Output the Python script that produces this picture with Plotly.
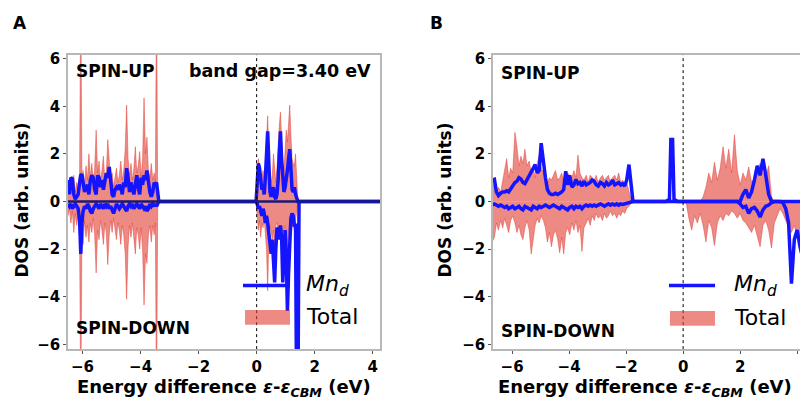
import plotly.graph_objects as go

# ---------------- Panel A data ----------------
E_A_val = [-6.5, -6.45, -6.4, -6.35, -6.3, -6.25, -6.2, -6.15, -6.1, -6.06, -6.02, -5.98, -5.93, -5.88,
           -5.83, -5.78, -5.73, -5.68, -5.63, -5.58, -5.53, -5.48, -5.43, -5.38, -5.33, -5.28, -5.23,
           -5.18, -5.13, -5.08, -5.03, -4.98, -4.93, -4.88, -4.83, -4.78, -4.73, -4.68, -4.63, -4.58,
           -4.53, -4.48, -4.43, -4.38, -4.33, -4.28, -4.23, -4.18, -4.13, -4.08, -4.03, -3.98, -3.93,
           -3.88, -3.83, -3.78, -3.73, -3.68, -3.63, -3.58, -3.53, -3.49, -3.45, -3.41, -3.37]
A_total_up_val = [0.9, 0.5, 1.0, 0.6, 1.1, 0.4, 0.8, 0.5, 1.2, 9.0, 1.0, 1.3, 0.7, 1.5,
                  0.9, 2.0, 1.0, 1.6, 0.8, 1.4, 3.0, 1.2, 1.7, 0.9, 1.3, 1.9, 0.8,
                  1.2, 2.6, 1.5, 0.9, 1.2, 0.6, 1.0, 1.4, 0.8, 1.1, 1.7, 0.9, 1.3,
                  2.2, 4.05, 1.8, 1.1, 1.6, 0.9, 1.4, 2.3, 1.2, 1.5, 2.1, 1.0, 1.8,
                  4.35, 2.0, 2.7, 1.3, 1.0, 1.6, 0.9, 1.2, 0.8, 9.0, 0.3, 0.0]
A_total_dn_val = [-0.6, -0.3, -0.9, -0.4, -1.3, -0.5, -1.0, -0.6, -1.5, -9.0, -1.2, -1.8, -0.8, -1.5,
                  -1.0, -1.7, -0.9, -1.3, -0.7, -1.4, -3.0, -1.2, -1.6, -0.8, -1.2, -1.8, -0.9,
                  -1.3, -2.65, -1.4, -0.8, -1.3, -0.7, -1.1, -1.6, -0.9, -1.2, -1.8, -1.0, -1.4,
                  -2.2, -4.1, -1.9, -1.0, -1.5, -0.9, -1.6, -2.2, -1.1, -1.4, -2.0, -1.1, -2.0,
                  -4.35, -2.2, -2.6, -1.4, -1.0, -1.7, -1.0, -1.4, -0.9, -9.0, -0.3, 0.0]
A_mn_up_val = [0.9, 0.3, 1.0, 0.95, 0.3, 0.1, 0.2, 0.3, 0.8, 1.1, 1.15, 0.9, 0.4, 0.6,
               0.7, 0.3, 0.9, 1.1, 1.0, 0.5, 0.3, 1.1, 1.0, 0.6, 0.9, 0.5, 0.8,
               1.2, 1.0, 1.45, 0.9, 0.3, 0.2, 0.5, 0.6, 0.5, 0.7, 0.6, 0.3, 0.8,
               0.6, 1.4, 1.0, 0.4, 0.8, 0.6, 0.3, 0.7, 1.1, 0.6, 0.3, 1.0, 0.7,
               1.1, 0.9, 1.3, 0.7, 0.4, 0.2, 0.4, 0.8, 0.7, 0.8, 0.3, 0.0]
A_mn_dn_val = [-0.1, -0.2, -0.1, -0.3, -0.2, -0.1, -0.2, -0.3, -0.8, -2.2, -0.9, -0.4, -0.2, -0.3,
               -0.1, -0.2, -0.4, -0.5, -0.3, -0.2, -0.1, -0.2, -0.3, -0.1, -0.2, -0.3, -0.1,
               -0.2, -0.1, -0.3, -0.2, -0.4, -0.5, -0.3, -0.1, -0.2, -0.3, -0.2, -0.1, -0.2,
               -0.3, -0.4, -0.2, -0.1, -0.2, -0.1, -0.3, -0.2, -0.1, -0.2, -0.3, -0.1, -0.2,
               -0.3, -0.2, -0.4, -0.3, -0.1, -0.2, -0.1, -0.2, -0.1, -0.2, -0.05, 0.0]

E_A_cond = [-0.02, 0.02, 0.06, 0.1, 0.14, 0.18, 0.22, 0.26, 0.3, 0.34, 0.38, 0.42, 0.46, 0.5, 0.54,
            0.58, 0.62, 0.66, 0.7, 0.74, 0.78, 0.82, 0.86, 0.9, 0.94, 0.98, 1.02, 1.06, 1.1, 1.14,
            1.18, 1.22, 1.26, 1.3, 1.34, 1.38, 1.42, 1.46, 4.3]
A_total_up_cond = [0.0, 1.0, 1.8, 1.2, 0.7, 0.9, 1.3, 0.6, 1.5, 2.6, 3.6, 2.0, 1.0, 0.8, 1.1,
                   2.0, 1.2, 0.8, 1.4, 2.4, 3.2, 3.75, 2.8, 1.6, 1.3, 2.3, 3.0, 2.5, 3.3, 4.05,
                   2.8, 1.8, 1.6, 1.5, 2.0, 1.0, 0.0, 0.0, 0.0]
A_total_dn_cond = [0.0, -0.6, -1.2, -0.8, -1.5, -0.9, -1.1, -0.7, -1.3, -2.0, -3.75, -1.5, -1.0, -1.3, -1.6,
                   -1.2, -2.0, -1.0, -0.9, -1.4, -1.0, -1.2, -1.8, -1.1, -1.3, -1.0, -1.4, -3.4, -1.2, -1.0,
                   -1.3, -1.1, -0.9, -1.2, -0.8, -0.4, 0.0, 0.0, 0.0]
A_mn_up_cond = [0.0, 0.8, 1.6, 1.4, 0.7, 0.5, 0.6, 0.3, 1.0, 2.0, 2.95, 1.6, 0.4, 0.2, 0.5,
                0.6, 0.2, 0.1, 0.3, 0.9, 2.0, 2.95, 1.8, 0.8, 0.4, 0.6, 0.9, 1.3, 1.8, 2.2,
                1.4, 0.5, 0.4, 0.6, 0.3, 0.1, 0.0, 0.0, 0.0]
A_mn_dn_cond = [0.0, -0.1, -0.3, -0.2, -0.4, -0.6, -0.3, -0.5, -0.9, -0.6, -0.9, -1.3, -1.8, -2.2, -1.6,
                -2.5, -3.4, -2.0, -1.1, -1.2, -1.6, -1.0, -1.5, -3.4, -2.0, -1.2, -2.2, -4.6, -3.0, -1.2,
                -0.7, -0.5, -0.6, -1.0, -1.0, -9.0, -9.0, 0.0, 0.0]

# ---------------- Panel B data ----------------
E_B_val = [-6.7, -6.62, -6.55, -6.48, -6.4, -6.33, -6.26, -6.19, -6.12, -6.05, -5.98, -5.9, -5.83, -5.76,
           -5.69, -5.62, -5.55, -5.48, -5.4, -5.33, -5.26, -5.19, -5.12, -5.05, -4.98, -4.9, -4.83,
           -4.76, -4.69, -4.62, -4.55, -4.48, -4.4, -4.33, -4.26, -4.19, -4.12, -4.05, -3.98, -3.9,
           -3.83, -3.76, -3.69, -3.62, -3.55, -3.48, -3.4, -3.33, -3.26, -3.19, -3.12, -3.05, -2.98,
           -2.9, -2.83, -2.76, -2.69, -2.62, -2.55, -2.48, -2.4, -2.33, -2.26, -2.19, -2.12, -2.05,
           -1.98, -1.9, -1.83, -1.76]
B_total_up_val = [0.5, 0.8, 0.3, 0.6, 0.4, 0.9, 1.3, 1.8, 1.0, 1.4, 1.2, 2.9, 2.3, 1.5,
                  1.9, 1.6, 2.2, 1.5, 1.7, 1.2, 1.4, 1.0, 1.6, 1.95, 1.4, 1.2, 0.9,
                  0.8, 1.0, 0.9, 1.1, 1.3, 0.9, 1.0, 1.2, 0.8, 1.0, 1.2, 1.1, 1.0,
                  1.3, 1.0, 1.95, 1.2, 1.0, 0.9, 1.1, 0.8, 1.1, 1.0, 0.9, 1.1, 0.8,
                  1.0, 1.1, 0.9, 1.0, 1.1, 0.8, 1.0, 1.1, 0.9, 1.2, 0.8, 0.9, 0.7,
                  0.8, 0.4, 0.1, 0.0]
B_total_dn_val = [-1.7, -1.5, -0.9, -1.2, -0.8, -1.1, -0.7, -1.0, -1.3, -0.8, -0.6, -0.9, -1.3, -1.0,
                  -1.4, -1.6, -1.1, -0.8, -1.2, -2.2, -1.5, -1.0, -0.7, -0.9, -0.6, -0.8, -1.1,
                  -1.7, -1.3, -1.9, -1.4, -1.2, -1.6, -2.15, -1.5, -2.2, -1.3, -1.1, -1.4, -0.9,
                  -1.2, -0.8, -1.3, -1.0, -2.1, -1.1, -0.9, -0.7, -1.0, -0.6, -0.8, -0.5, -0.7,
                  -0.6, -0.8, -0.5, -0.7, -0.6, -0.4, -0.6, -0.5, -0.7, -0.5, -0.6, -0.4, -0.5,
                  -0.3, -0.2, -0.1, 0.0]
B_mn_up_val = [0.9, 0.93, 0.4, 0.25, 0.35, 0.4, 0.4, 0.45, 0.4, 0.55, 0.65, 0.8, 0.85, 1.0,
               0.95, 0.8, 0.75, 0.9, 1.1, 1.27, 1.4, 1.55, 1.2, 1.3, 2.45, 1.6, 1.0,
               0.5, 0.35, 0.3, 0.3, 0.35, 0.3, 0.35, 0.4, 0.5, 1.27, 0.7, 1.1, 0.6,
               0.7, 0.93, 0.75, 0.8, 0.65, 0.85, 0.7, 0.75, 0.8, 0.9, 0.85, 0.7, 0.65,
               0.8, 0.75, 0.65, 0.8, 0.7, 0.75, 0.9, 0.7, 0.75, 0.8, 0.7, 0.75, 0.65,
               0.9, 1.55, 0.6, 0.0]
B_mn_dn_val = [-0.15, -0.1, -0.15, -0.2, -0.15, -0.2, -0.25, -0.2, -0.3, -0.25, -0.2, -0.3, -0.25, -0.2,
               -0.3, -0.35, -0.2, -0.25, -0.3, -0.35, -0.2, -0.25, -0.3, -0.2, -0.25, -0.2, -0.15,
               -0.2, -0.25, -0.2, -0.15, -0.2, -0.25, -0.3, -0.2, -0.25, -0.3, -0.35, -0.25, -0.2,
               -0.3, -0.2, -0.25, -0.2, -0.3, -0.2, -0.15, -0.2, -0.15, -0.2, -0.15, -0.2, -0.15,
               -0.1, -0.15, -0.2, -0.15, -0.1, -0.15, -0.1, -0.15, -0.1, -0.15, -0.1, -0.12, -0.1,
               -0.08, -0.05, -0.02, 0.0]

E_B_peak = [-0.6, -0.48, -0.43, -0.37, -0.32, -0.2]
B_mn_up_peak = [0.0, 0.1, 2.6, 2.6, 0.1, 0.0]

E_B_cond = [0.1, 0.2, 0.3, 0.4, 0.5, 0.6, 0.7, 0.8, 0.9, 1.0, 1.1, 1.2, 1.3, 1.4, 1.5, 1.6, 1.7, 1.8,
            1.9, 2.0, 2.1, 2.2, 2.3, 2.4, 2.5, 2.6, 2.7, 2.8, 2.9, 3.0, 3.1, 3.2, 3.3, 3.4, 3.5, 3.6,
            3.7, 3.8, 3.9, 4.0, 4.1, 4.2]
B_total_up_cond = [0.0, 0.0, 0.0, 0.0, 0.0, 0.0, 0.2, 0.6, 1.2, 0.8, 1.65, 0.9, 1.4, 2.3, 1.4, 2.2, 1.2, 2.8,
                   1.3, 0.7, 1.2, 0.9, 1.45, 0.8, 1.0, 1.3, 1.6, 1.2, 1.0, 1.5, 0.2, 0.0, 0.0, 0.0, 0.0, 0.0,
                   0.0, 0.0, 0.0, 0.0, 0.0, 0.0]
B_total_dn_cond = [0.0, -0.7, -1.2, -0.6, -0.9, -0.5, -1.0, -1.7, -0.8, -1.1, -1.85, -0.9, -0.6, -0.8, -0.5, -0.6,
                   -0.4, -0.5, -0.7, -0.5, -0.8, -0.9, -1.1, -1.3, -1.0, -1.4, -1.9, -1.0, -0.8, -1.2, -1.95,
                   -0.9, -0.6, -0.3, -0.5, -0.8, -1.1, -1.3, -1.0, -1.5, -1.8, -2.0]
B_mn_up_cond = [0.0, 0.0, 0.0, 0.0, 0.0, 0.0, 0.0, 0.0, 0.0, 0.0, 0.0, 0.0, 0.0, 0.0, 0.0, 0.0, 0.0, 0.0,
                0.0, 0.0, 0.3, 0.5, 0.15, 0.4, 0.9, 1.5, 1.1, 1.8, 1.1, 0.3, 0.0, 0.0, 0.0, 0.0, 0.0, 0.0,
                0.0, 0.0, 0.0, 0.0, 0.0, 0.0]
B_mn_dn_cond = [0.0, 0.0, 0.0, 0.0, 0.0, 0.0, 0.0, 0.0, 0.0, 0.0, 0.0, 0.0, 0.0, 0.0, 0.0, 0.0, 0.0, 0.0,
                0.0, -0.1, -0.25, -0.2, -0.5, -0.3, -0.25, -0.4, -0.65, -0.35, -0.2, -0.15, -0.05, 0.0,
                0.0, 0.0, -0.05, -0.3, -0.9, -3.45, -1.6, -1.2, -1.9, -2.4]

Y_TICKS = [-6, -4, -2, 0, 2, 4, 6]
X_TICKS = [-6, -4, -2, 0, 2, 4]

# ---------------- styles ----------------
W, H = 800, 403
FONT = "DejaVu Sans"
RED_FILL = "rgba(225,60,50,0.6)"
BLUE = "rgb(20,20,255)"
NAVY = "rgb(25,25,120)"
FRAME = "#b8b8b8"

fig = go.Figure()


def add_panel(xa, ya, e_val, e_mid, e_cond, tu, td, mu, md):
    ex_t = list(e_val) + list(e_cond)
    ex_m = list(e_val) + list(e_mid[0]) + list(e_cond)
    tot_up = list(tu[0]) + list(tu[1])
    tot_dn = list(td[0]) + list(td[1])
    mn_up = list(mu[0]) + list(e_mid[1]) + list(mu[1])
    mn_dn = list(md[0]) + [0.0] * len(e_mid[0]) + list(md[1])
    for yy in (tot_up, tot_dn):
        fig.add_trace(go.Scatter(x=ex_t, y=yy, mode="lines", fill="tozeroy",
                                 fillcolor=RED_FILL, line=dict(color=RED_FILL, width=0.8),
                                 xaxis=xa, yaxis=ya, showlegend=False, hoverinfo="skip"))
    for yy in (mn_up, mn_dn):
        fig.add_trace(go.Scatter(x=ex_m, y=yy, mode="lines",
                                 line=dict(color=BLUE, width=3.5),
                                 xaxis=xa, yaxis=ya, showlegend=False, hoverinfo="skip"))


add_panel("x", "y", E_A_val, ([], []), E_A_cond,
          (A_total_up_val, A_total_up_cond), (A_total_dn_val, A_total_dn_cond),
          (A_mn_up_val, A_mn_up_cond), (A_mn_dn_val, A_mn_dn_cond))
add_panel("x2", "y2", E_B_val, (E_B_peak, B_mn_up_peak), E_B_cond,
          (B_total_up_val, B_total_up_cond), (B_total_dn_val, B_total_dn_cond),
          (B_mn_up_val, B_mn_up_cond), (B_mn_dn_val, B_mn_dn_cond))

tickfont = dict(family=FONT, size=15, color="black", weight="bold")
ydom = [1 - 352 / H, 1 - 51 / H]
axis_common = dict(showgrid=False, zeroline=False, showline=True, linecolor=FRAME, linewidth=1.5,
                   ticks="outside", ticklen=3, tickcolor="#555", tickfont=tickfont)

fig.update_layout(
    width=W, height=H, margin=dict(l=0, r=0, t=0, b=0),
    paper_bgcolor="white", plot_bgcolor="white", showlegend=False,
    xaxis=dict(domain=[68 / W, 380 / W], range=[-6.5, 4.25], tickvals=X_TICKS, mirror=True,
               anchor="y", **axis_common),
    yaxis=dict(domain=ydom, range=[-6.2, 6.16], tickvals=Y_TICKS, mirror=True, anchor="x",
               **axis_common),
    xaxis2=dict(domain=[493 / W, 1.0], range=[-6.67, 4.1], tickvals=X_TICKS, mirror=True,
                anchor="y2", **axis_common),
    yaxis2=dict(domain=ydom, range=[-6.2, 6.16], tickvals=Y_TICKS, mirror=False, anchor="x2",
                **axis_common),
)

shapes = []
# dashed line at the CBM
for xr, yr in (("x", "y"), ("x2", "y2")):
    shapes.append(dict(type="line", xref=xr, yref=yr + " domain", x0=0, x1=0, y0=0, y1=1,
                       line=dict(color="black", width=1, dash="dot"), layer="above"))
# navy zero line in panel A
shapes.append(dict(type="line", xref="x domain", yref="y", x0=0, x1=1, y0=0, y1=0,
                   line=dict(color=NAVY, width=2.5), layer="above"))


def px(x):
    return x / W


def py(y):
    return 1 - y / H


# legend swatches (drawn in paper space)
for (lx0, lx1, ly, rx0, rx1, ry0, ry1) in ((243, 290, 287, 245, 290, 312, 327),
                                           (669, 715, 287, 670, 715, 313, 328)):
    shapes.append(dict(type="line", xref="paper", yref="paper", x0=px(lx0), x1=px(lx1),
                       y0=py(ly), y1=py(ly), line=dict(color=BLUE, width=3.5), layer="above"))
    shapes.append(dict(type="rect", xref="paper", yref="paper", x0=px(rx0), x1=px(rx1),
                       y0=py(ry1), y1=py(ry0), fillcolor=RED_FILL, line=dict(width=0),
                       layer="above"))
fig.update_layout(shapes=shapes)

bold = lambda s: dict(family=FONT, size=s, color="black", weight="bold")
reg = lambda s: dict(family=FONT, size=s, color="black")
ann = []


def add_ann(text, x, y, font, xanchor="center", yanchor="middle", textangle=0):
    ann.append(dict(text=text, x=px(x), y=py(y), xref="paper", yref="paper", showarrow=False,
                    font=font, xanchor=xanchor, yanchor=yanchor, textangle=textangle))


add_ann("A", 20, 18.5, bold(17))
add_ann("B", 436, 18.5, bold(17))
add_ann("SPIN-UP", 74, 68, bold(17), xanchor="left")
add_ann("band gap=3.40 eV", 373, 68, bold(17.5), xanchor="right")
add_ann("SPIN-DOWN", 74, 330, bold(17), xanchor="left")
add_ann("SPIN-UP", 499, 70, bold(17), xanchor="left")
add_ann("SPIN-DOWN", 499, 333, bold(17), xanchor="left")
xtitle = "Energy difference <i>ε</i>-<i>ε</i><sub><i>CBM</i></sub> (eV)"
add_ann(xtitle, 224, 392, bold(18))
add_ann(xtitle, 645, 392, bold(18))
add_ann("DOS (arb. units)", 22, 200, bold(17), textangle=-90)
add_ann("DOS (arb. units)", 445, 200, bold(17), textangle=-90)
add_ann("<i>Mn<sub>d</sub></i>", 304, 287, reg(22), xanchor="left")
add_ann("Total", 304, 319, reg(22), xanchor="left")
add_ann("<i>Mn<sub>d</sub></i>", 732, 287, reg(22), xanchor="left")
add_ann("Total", 732, 320, reg(22), xanchor="left")
fig.update_layout(annotations=ann)

fig.write_html("out.html", config={"displayModeBar": False},
               post_script="document.body.style.margin='0';document.body.style.overflow='hidden';")
